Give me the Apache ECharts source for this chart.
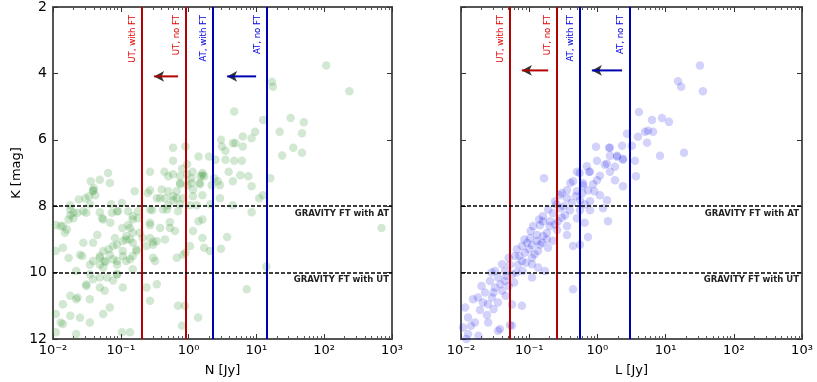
<!DOCTYPE html>
<html>
<head>
<meta charset="utf-8">
<script src="https://cdn.jsdelivr.net/npm/echarts@6/dist/echarts.min.js"></script>
<style>
html, body { margin: 0; padding: 0; background: #fff; }
#chartBox { width: 817px; height: 382px; }
</style>
</head>
<body>
<div id="chartBox"></div>
<script>
// K magnitude vs N flux (left panel)
const nPoints = [
  [107, 3.76], [235, 4.54], [17, 4.25], [17.5, 4.4], [4.7, 5.15], [32, 5.34], [50, 5.47], [12.6, 5.4],
  [9.6, 5.76], [22, 5.76], [47, 5.8], [6.3, 5.9], [8.5, 5.95], [3.0, 6.0], [4.5, 6.1], [4.9, 6.1],
  [6.3, 6.2], [35, 6.24], [3.1, 6.2], [3.5, 6.33], [47, 6.39], [24, 6.47], [0.59, 6.24], [0.9, 6.2],
  [1.4, 6.5], [2.0, 6.5], [2.5, 6.6], [0.59, 6.63], [0.95, 6.74], [3.5, 6.6], [4.7, 6.63], [6.1, 6.63],
  [0.27, 6.96], [0.065, 7.0], [0.44, 6.96], [0.8, 6.87], [0.59, 7.04], [0.95, 7.04], [1.15, 6.96], [1.6, 7.0],
  [1.7, 7.1], [3.9, 6.96], [7.6, 7.1], [16, 7.16], [2.7, 7.25], [4.5, 7.25], [0.036, 7.25], [0.049, 7.2],
  [0.069, 7.3], [0.75, 7.3], [1.1, 7.3], [1.45, 7.3],
  [0.04, 7.46], [0.039, 7.55], [0.034, 7.7], [0.024, 7.8], [0.16, 7.55], [0.25, 7.6], [0.34, 7.76],
  [0.018, 7.97], [0.035, 7.94], [0.072, 7.94], [0.104, 7.9], [0.018, 8.27], [0.031, 8.2], [0.049, 8.18],
  [0.074, 8.2], [0.128, 8.15], [0.18, 8.15], [0.29, 8.12],
  [1.6, 7.07], [0.5, 7.1], [0.75, 7.1], [1.1, 7.16], [1.5, 7.1], [2.4, 7.16], [5.8, 7.07],
  [0.75, 7.34], [0.96, 7.37], [1.47, 7.34], [2.2, 7.37], [2.9, 7.37], [0.4, 7.5], [0.27, 7.52], [1.16, 7.5],
  [0.67, 7.55], [8.5, 7.4], [0.45, 7.76], [0.59, 7.82], [0.83, 7.76], [1.16, 7.7], [1.6, 7.67], [2.9, 7.76],
  [11, 7.76], [12.5, 7.67], [0.5, 7.97], [0.75, 7.94], [1.32, 7.97], [2.1, 7.94], [4.5, 7.97], [8.5, 8.18],
  [0.02, 8.2], [0.028, 8.15], [0.014, 8.6], [0.011, 8.57], [0.015, 8.8], [0.017, 8.4], [0.053, 8.36], [0.07, 8.5],
  [0.091, 8.15], [0.105, 8.66], [0.128, 8.57], [0.15, 8.8], [0.18, 8.36], [0.21, 8.96], [0.137, 9.0], [0.107, 9.05],
  [0.082, 8.96], [0.045, 8.87], [0.028, 9.1], [0.027, 9.5], [0.039, 9.1], [0.055, 9.35], [0.069, 9.46], [0.088, 9.65],
  [0.058, 9.65], [0.039, 9.65], [0.049, 9.76], [0.107, 9.5], [0.137, 9.6], [0.011, 9.35], [0.017, 9.56], [0.17, 9.3],
  [0.15, 9.9], [0.088, 10.05], [0.049, 10.15], [0.035, 10.05], [0.031, 10.36], [0.049, 10.45], [0.058, 10.55], [0.077, 10.24],
  [0.107, 10.45], [0.018, 10.7], [0.023, 10.75], [0.035, 10.8], [0.069, 11.05], [0.014, 10.95], [0.011, 11.25], [0.018, 11.3],
  [0.025, 11.36], [0.035, 11.5], [0.055, 11.25], [0.014, 11.55], [0.011, 11.8], [0.022, 11.85], [0.104, 11.8], [0.137, 11.8],
  [0.24, 10.45], [0.27, 10.85], [0.24, 9.2], [0.34, 9.05], [0.3, 9.55], [0.34, 10.35],
  [700, 8.66], [1.6, 8.96], [3.7, 8.93], [1.7, 9.25], [3.0, 9.28], [2.05, 9.35], [1.05, 9.2], [0.9, 9.4],
  [0.67, 9.55], [0.32, 9.65], [7.2, 10.5], [14, 9.82], [0.7, 11.0], [0.88, 11.0], [1.38, 11.35], [0.8, 11.6],
  [0.63, 8.75], [1.4, 8.45], [1.6, 8.4],
  [0.15, 8.3], [0.27, 8.5], [0.19, 8.8], [0.12, 9.0], [0.077, 9.2], [0.049, 9.5], [0.06, 9.67], [0.039, 10.2],
  [0.031, 10.4], [0.022, 10.8], [0.013, 11.5], [0.016, 8.7], [0.42, 8.1], [0.53, 8.48], [0.59, 7.7], [0.3, 9.07],
  [0.15, 9.5],
  [0.039, 7.52], [0.042, 7.67], [0.03, 7.76], [0.018, 8.1], [0.013, 8.6], [0.02, 8.36], [0.023, 8.2], [0.055, 8.4],
  [0.088, 8.15], [0.15, 8.4], [0.38, 7.76], [0.5, 7.55], [0.67, 7.76], [0.27, 8.1], [0.48, 8.1], [0.7, 8.15],
  [0.27, 8.57], [0.38, 8.66], [0.53, 8.66], [0.27, 8.96], [0.45, 9.0], [0.3, 9.16], [0.137, 8.66], [0.12, 8.9],
  [0.15, 9.1], [0.088, 9.16], [0.107, 9.35], [0.17, 9.35], [0.066, 9.3], [0.049, 9.55], [0.077, 9.6], [0.12, 9.65],
  [0.088, 9.76], [0.055, 9.85], [0.035, 9.76], [0.025, 9.46], [0.014, 9.25], [0.022, 9.95], [0.063, 10.15], [0.088, 10.05],
  [1.05, 7.97], [1.16, 8.75], [0.83, 9.46]
];

// K magnitude vs L flux (right panel)
const lPoints = [
  [31.9, 3.76], [35.2, 4.54], [15.2, 4.24], [16.9, 4.4], [4.07, 5.16], [8.86, 5.34], [11.2, 5.46], [6.32, 5.4],
  [4.99, 5.76], [5.52, 5.73], [6.54, 5.76], [3.94, 5.91], [2.72, 5.82], [5.34, 6.09], [2.3, 6.18], [3.2, 6.18],
  [18.6, 6.39], [8.28, 6.48], [0.953, 6.21], [1.48, 6.24], [1.53, 6.48], [1.94, 6.51], [2.37, 6.6], [3.56, 6.63],
  [0.986, 6.63], [1.29, 6.75], [1.81, 6.81], [0.165, 7.16], [0.502, 6.96], [0.753, 6.96], [1.09, 7.08], [0.986, 7.22],
  [3.68, 7.1], [0.439, 7.25], [0.615, 7.31], [0.863, 7.34],
  [1.53, 6.24], [1.94, 6.48], [2.37, 6.57], [1.38, 6.72], [0.78, 6.96], [1.53, 6.96], [1.81, 7.22], [2.37, 7.4],
  [0.615, 7.37], [0.728, 7.52], [0.358, 7.52], [0.502, 7.55], [0.358, 7.76], [0.283, 7.67], [0.556, 7.82], [0.78, 7.85],
  [1.09, 7.67], [1.38, 7.82], [0.239, 7.85], [0.283, 8.06], [0.396, 8.12], [0.556, 8.12], [0.78, 8.12], [1.21, 8.06],
  [0.159, 8.3], [0.223, 8.21], [0.335, 8.27], [0.502, 8.36], [0.159, 8.45], [0.114, 8.6], [0.144, 8.57], [0.202, 8.45],
  [0.264, 8.45], [0.358, 8.6], [1.43, 8.45], [0.13, 8.87], [0.182, 8.81], [0.256, 8.72], [0.358, 8.87], [0.103, 8.96],
  [0.093, 9.1], [0.144, 9.16], [0.223, 9.04], [0.728, 8.93], [0.556, 9.16], [0.439, 9.2],
  [0.0127, 11.85], [0.0107, 11.65], [0.016, 11.5], [0.0127, 11.35], [0.0115, 11.05], [0.015, 10.8], [0.019, 11.13], [0.024, 11.28],
  [0.0177, 10.75], [0.0225, 10.6], [0.0285, 10.75], [0.0249, 10.95], [0.0349, 10.9], [0.0315, 10.45], [0.04, 10.55], [0.0266, 10.25],
  [0.0349, 10.15], [0.0442, 10.25], [0.0315, 9.95], [0.0442, 9.95], [0.056, 10.06], [0.0522, 9.76], [0.0686, 9.76], [0.0784, 9.65],
  [0.062, 9.5], [0.0867, 9.4], [0.11, 9.55], [0.0784, 9.2], [0.11, 9.17], [0.135, 9.35], [0.154, 9.1], [0.189, 9.25],
  [0.182, 9.0], [0.0784, 11.0], [0.056, 10.96], [0.056, 11.6], [0.0373, 11.7], [0.11, 10.15], [0.17, 9.95], [0.135, 9.85],
  [0.439, 10.5], [0.0349, 11.75], [0.0522, 11.58],
  [0.021, 10.9], [0.03, 10.6], [0.038, 10.35], [0.046, 10.1], [0.05, 10.4], [0.065, 10.0], [0.072, 9.5], [0.09, 9.7],
  [0.1, 9.3], [0.12, 9.45], [0.13, 9.05], [0.16, 8.9], [0.2, 8.6], [0.24, 8.55], [0.3, 8.35], [0.32, 8.0],
  [0.42, 7.9], [0.48, 7.7], [0.6, 7.6], [0.66, 7.95], [0.9, 7.55], [0.045, 10.7], [0.06, 10.3], [0.08, 9.95],
  [0.11, 9.75], [0.025, 11.5], [0.014, 11.6], [0.018, 11.9], [0.012, 12.0], [0.03, 11.1], [0.02, 10.4], [0.028, 10.0],
  [0.04, 9.75], [0.05, 9.55], [0.066, 9.3], [0.085, 9.0], [0.105, 8.75], [0.14, 8.4], [0.19, 8.1], [0.25, 7.95],
  [0.3, 7.6], [0.4, 7.3], [0.55, 7.0], [0.7, 6.8], [0.65, 8.5]
];

const xTickLabels = ['10\u207b\u00b2', '10\u207b\u00b9', '10\u2070', '10\u00b9', '10\u00b2', '10\u00b3'];
const limitNames = ['UT, with FT', 'UT, no FT', 'AT, with FT', 'AT, no FT'];
const nLimits = [0.203, 0.906, 2.24, 14.2];
const lLimits = [0.051, 0.253, 0.556, 3.0];
const gravityK = [8, 10];
const gravityNames = ['GRAVITY FT with AT', 'GRAVITY FT with UT'];
// arrows: [from, to] in flux, at a K level
const nArrows = [[0.70, 0.31], [9.9, 3.7]];
const nArrowK = 4.09;
const lArrows = [[0.19, 0.078], [2.3, 0.83]];
const lArrowK = 3.91;

const lineColors = ['#b30000', '#b30000', '#0000b3', '#0000b3'];
const textColors = ['#e60000', '#e60000', '#0000e0', '#0000e0'];
const frame = { show: true, onZero: false, lineStyle: { color: '#555', width: 2 } };
const font = 'DejaVu Sans';

// minor ticks at 2..9 of each decade, on a linear log10 axis
const minorTicks = [];
for (let d = -2; d < 3; d++) {
  for (let m = 2; m < 10; m++) minorTicks.push(d + Math.log10(m));
}

function xAxes (g, name) {
  const major = {
    gridIndex: g, type: 'log', logBase: 10, min: 0.01, max: 1000,
    axisLine: frame, splitLine: { show: false },
    axisTick: { inside: true, length: 5, lineStyle: { color: '#333', width: 1 } }
  };
  const minor = {
    gridIndex: g, type: 'value', min: -2, max: 3,
    axisLine: { show: false, onZero: false }, splitLine: { show: false }, axisLabel: { show: false },
    axisTick: { inside: true, length: 3, customValues: minorTicks, lineStyle: { color: '#555', width: 1 } }
  };
  return [
    Object.assign({}, major, {
      position: 'bottom',
      axisLabel: {
        color: '#000', fontSize: 13, fontFamily: font, margin: 5,
        formatter: v => xTickLabels[Math.round(Math.log10(v)) + 2]
      },
      name: name, nameLocation: 'middle', nameGap: 25,
      nameTextStyle: { color: '#000', fontSize: 13, fontFamily: font }
    }),
    Object.assign({}, major, { position: 'top', axisLabel: { show: false } }),
    Object.assign({}, minor, { position: 'bottom' }),
    Object.assign({}, minor, { position: 'top' })
  ];
}

function yAxes (g, showLabels) {
  const base = {
    gridIndex: g, type: 'value', inverse: true, min: 2, max: 12, interval: 2,
    axisLine: frame, splitLine: { show: false },
    axisTick: { inside: true, length: 5, lineStyle: { color: '#333', width: 1 } }
  };
  return [
    Object.assign({}, base, {
      position: 'left',
      axisLabel: { show: showLabels, color: '#000', fontSize: 14, fontFamily: font, margin: 6 },
      name: showLabels ? 'K [mag]' : '', nameLocation: 'middle', nameGap: 30,
      nameTextStyle: { color: '#000', fontSize: 13, fontFamily: font }
    }),
    Object.assign({}, base, { position: 'right', axisLabel: { show: false } })
  ];
}

function panelSeries (xi, yi, points, color, limits, arrows, arrowK) {
  const list = [];
  list.push({
    type: 'scatter', xAxisIndex: xi, yAxisIndex: yi,
    data: points, symbolSize: 8.5,
    itemStyle: { color: color }
  });
  // telescope limits
  list.push({
    type: 'line', xAxisIndex: xi, yAxisIndex: yi, data: [],
    markLine: {
      silent: true, symbol: ['none', 'none'],
      data: limits.map((v, i) => [
        {
          coord: [v, 12],
          lineStyle: { color: lineColors[i], width: 2, type: 'solid' },
          label: {
            show: true, formatter: limitNames[i], position: 'insideEndTop',
            color: textColors[i], fontSize: 9.5, distance: [8, 4],
            fontFamily: "'DejaVu Sans Condensed', 'Liberation Sans Narrow', sans-serif"
          }
        },
        { coord: [v, 2] }
      ])
    }
  });
  // GRAVITY fringe tracker limits
  list.push({
    type: 'line', xAxisIndex: xi, yAxisIndex: yi, data: [],
    markLine: {
      silent: true, symbol: ['none', 'none'],
      lineStyle: { color: '#000', width: 1.5, type: [4, 2] },
      label: {
        show: true, position: 'insideEndBottom', color: '#222',
        fontSize: 8.5, fontWeight: 'bold', fontFamily: font, distance: 3
      },
      data: gravityK.map((k, i) => ({ yAxis: k, label: { formatter: gravityNames[i] } }))
    }
  });
  // arrows
  arrows.forEach((a, i) => {
    list.push({
      type: 'line', xAxisIndex: xi, yAxisIndex: yi, showSymbol: false,
      data: [[a[0], arrowK], [a[1], arrowK]],
      lineStyle: { color: lineColors[i * 2], width: 2 }
    });
    list.push({
      type: 'scatter', xAxisIndex: xi, yAxisIndex: yi,
      data: [[a[1], arrowK]], symbol: 'arrow', symbolSize: [8, 10], symbolRotate: 90,
      itemStyle: { color: '#000' }
    });
  });
  return list;
}

const myChart = echarts.init(document.getElementById('chartBox'));
myChart.setOption({
  animation: false,
  grid: [
    { left: 53, top: 7, width: 339, height: 335 },
    { left: 461, top: 7, width: 341, height: 335 }
  ],
  xAxis: xAxes(0, 'N [Jy]').concat(xAxes(1, 'L [Jy]')),
  yAxis: yAxes(0, true).concat(yAxes(1, false)),
  series: panelSeries(0, 0, nPoints, 'rgba(34,139,34,0.25)', nLimits, nArrows, nArrowK)
    .concat(panelSeries(4, 2, lPoints, 'rgba(0,0,230,0.22)', lLimits, lArrows, lArrowK))
});
</script>
</body>
</html>
